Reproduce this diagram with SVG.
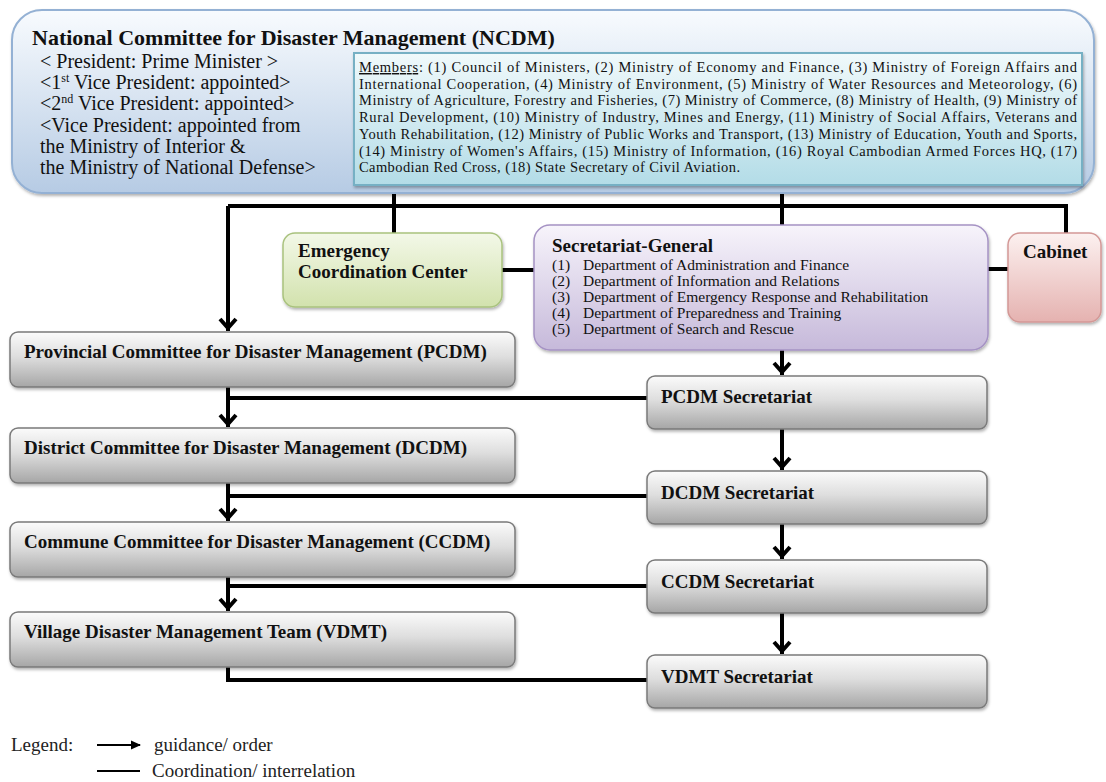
<svg xmlns="http://www.w3.org/2000/svg" width="1106" height="782" viewBox="0 0 1106 782">
<defs>
<style>
text{font-family:"Liberation Serif","Times New Roman",serif;fill:#111;}
.lbl{font-size:19px;font-weight:bold;}
.ttl{font-size:22px;font-weight:bold;}
.pres{font-size:20px;}
.mem{font-size:14.5px;}
.dep{font-size:15.5px;}
.leg{font-size:19px;fill:#222;}
.con{fill:none;stroke:#000;stroke-width:4;}
.gray{fill:url(#gGray);stroke:#7a7a7a;stroke-width:1.5;filter:url(#sh);}
</style>
<linearGradient id="gNCDM" x1="0" y1="0" x2="0" y2="1"><stop offset="0" stop-color="#f8fbfe"/><stop offset="1" stop-color="#b6cbe4"/></linearGradient>
<linearGradient id="gMem" x1="0" y1="0" x2="0" y2="1"><stop offset="0" stop-color="#f0f9fb"/><stop offset="1" stop-color="#b3dce7"/></linearGradient>
<linearGradient id="gGray" x1="0" y1="0" x2="0" y2="1"><stop offset="0" stop-color="#fbfbfb"/><stop offset="0.45" stop-color="#dedede"/><stop offset="1" stop-color="#a6a6a6"/></linearGradient>
<linearGradient id="gGreen" x1="0" y1="0" x2="0" y2="1"><stop offset="0" stop-color="#f3f8e8"/><stop offset="1" stop-color="#d2e2ad"/></linearGradient>
<linearGradient id="gPurple" x1="0" y1="0" x2="0" y2="1"><stop offset="0" stop-color="#f7f4fb"/><stop offset="1" stop-color="#c6b9da"/></linearGradient>
<linearGradient id="gPink" x1="0" y1="0" x2="0" y2="1"><stop offset="0" stop-color="#fcf1f0"/><stop offset="1" stop-color="#e5b2b0"/></linearGradient>
<filter id="sh" x="-5%" y="-10%" width="110%" height="130%"><feDropShadow dx="1" dy="2" stdDeviation="1.5" flood-color="#000" flood-opacity="0.3"/></filter>
<marker id="ah" markerUnits="userSpaceOnUse" markerWidth="30" markerHeight="30" viewBox="-15 -15 30 30" refX="0" refY="0" orient="auto" overflow="visible">
<path d="M-12,-8 L-3,0 L-12,8" fill="none" stroke="#000" stroke-width="4"/>
</marker>
<marker id="lh" markerUnits="userSpaceOnUse" markerWidth="14" markerHeight="14" viewBox="-10 -7 14 14" refX="0" refY="0" orient="auto" overflow="visible">
<path d="M-9,-4.5 L1,0 L-9,4.5 z" fill="#000"/>
</marker>
</defs>
<rect width="1106" height="782" fill="#fff"/>

<g id="connectors">
<path class="con" d="M228,206 H1066 V233"/>
<path class="con" d="M228,206 V331" marker-end="url(#ah)"/>
<path class="con" d="M394,192 V233"/>
<path class="con" d="M782,192 V225"/>
<path class="con" d="M502,270 H534"/>
<path class="con" d="M988,269 H1008"/>
<path class="con" d="M228,387 V427" marker-end="url(#ah)"/>
<path class="con" d="M228,398 H647"/>
<path class="con" d="M228,483 V521" marker-end="url(#ah)"/>
<path class="con" d="M228,496 H647"/>
<path class="con" d="M228,577 V611" marker-end="url(#ah)"/>
<path class="con" d="M228,586 H647"/>
<path class="con" d="M228,667 V680 H647"/>
<path class="con" d="M782,350 V375" marker-end="url(#ah)"/>
<path class="con" d="M782,429 V470" marker-end="url(#ah)"/>
<path class="con" d="M782,524 V559" marker-end="url(#ah)"/>
<path class="con" d="M782,613 V654" marker-end="url(#ah)"/>
</g>

<g id="ncdm">
<rect x="12" y="10" width="1082" height="183" rx="30" fill="url(#gNCDM)" stroke="#94b1d4" stroke-width="2" filter="url(#sh)"/>
<text class="ttl" x="32" y="45">National Committee for Disaster Management (NCDM)</text>
<text class="pres" x="40" y="68">&lt; President: Prime Minister &gt;</text>
<text class="pres" x="40" y="89">&lt;1<tspan font-size="12" dy="-7">st</tspan><tspan dy="7"> Vice President: appointed&gt;</tspan></text>
<text class="pres" x="40" y="110">&lt;2<tspan font-size="12" dy="-7">nd</tspan><tspan dy="7"> Vice President: appointed&gt;</tspan></text>
<text class="pres" x="40" y="132">&lt;Vice President: appointed from</text>
<text class="pres" x="40" y="153">the Ministry of Interior &amp;</text>
<text class="pres" x="40" y="174">the Ministry of National Defense&gt;</text>
</g>

<g id="members">
<rect x="354" y="53" width="728" height="132" fill="url(#gMem)" stroke="#76b0c4" stroke-width="2" filter="url(#sh)"/>
<text class="mem" x="359" y="72" textLength="718" lengthAdjust="spacing"><tspan text-decoration="underline">Members</tspan>: (1) Council of Ministers, (2) Ministry of Economy and Finance, (3) Ministry of Foreign Affairs and</text>
<text class="mem" x="359" y="88.7" textLength="718" lengthAdjust="spacing">International Cooperation, (4) Ministry of Environment, (5) Ministry of Water Resources and Meteorology, (6)</text>
<text class="mem" x="359" y="105.4" textLength="718" lengthAdjust="spacing">Ministry of Agriculture, Forestry and Fisheries, (7) Ministry of Commerce, (8) Ministry of Health, (9) Ministry of</text>
<text class="mem" x="359" y="122.1" textLength="718" lengthAdjust="spacing">Rural Development, (10) Ministry of Industry, Mines and Energy, (11) Ministry of Social Affairs, Veterans and</text>
<text class="mem" x="359" y="138.8" textLength="718" lengthAdjust="spacing">Youth Rehabilitation, (12) Ministry of Public Works and Transport, (13) Ministry of Education, Youth and Sports,</text>
<text class="mem" x="359" y="155.5" textLength="718" lengthAdjust="spacing">(14) Ministry of Women's Affairs, (15) Ministry of Information, (16) Royal Cambodian Armed Forces HQ, (17)</text>
<text class="mem" x="359" y="172.2" textLength="381" lengthAdjust="spacing">Cambodian Red Cross, (18) State Secretary of Civil Aviation.</text>
</g>

<g id="ecc">
<rect x="283" y="233" width="219" height="74" rx="12" fill="url(#gGreen)" stroke="#a9c27e" stroke-width="1.5" filter="url(#sh)"/>
<text class="lbl" x="298" y="257">Emergency</text>
<text class="lbl" x="298" y="278">Coordination Center</text>
</g>

<g id="secretariat-general">
<rect x="534" y="225" width="454" height="125" rx="16" fill="url(#gPurple)" stroke="#a592c4" stroke-width="1.5" filter="url(#sh)"/>
<text class="lbl" x="552" y="252">Secretariat-General</text>
<text class="dep" x="552" y="270">(1)</text><text class="dep" x="583" y="270">Department of Administration and Finance</text>
<text class="dep" x="552" y="286">(2)</text><text class="dep" x="583" y="286">Department of Information and Relations</text>
<text class="dep" x="552" y="302">(3)</text><text class="dep" x="583" y="302">Department of Emergency Response and Rehabilitation</text>
<text class="dep" x="552" y="318">(4)</text><text class="dep" x="583" y="318">Department of Preparedness and Training</text>
<text class="dep" x="552" y="334">(5)</text><text class="dep" x="583" y="334">Department of Search and Rescue</text>
</g>

<g id="cabinet">
<rect x="1008" y="233" width="93" height="89" rx="12" fill="url(#gPink)" stroke="#d39896" stroke-width="1.5" filter="url(#sh)"/>
<text class="lbl" x="1023" y="258">Cabinet</text>
</g>

<g id="pcdm"><rect class="gray" x="10" y="332" width="505" height="55" rx="8"/><text class="lbl" x="24" y="358">Provincial Committee for Disaster Management (PCDM)</text></g>
<g id="dcdm"><rect class="gray" x="10" y="428" width="505" height="55" rx="8"/><text class="lbl" x="24" y="454">District Committee for Disaster Management (DCDM)</text></g>
<g id="ccdm"><rect class="gray" x="10" y="522" width="505" height="55" rx="8"/><text class="lbl" x="24" y="548">Commune Committee for Disaster Management (CCDM)</text></g>
<g id="vdmt"><rect class="gray" x="10" y="612" width="505" height="55" rx="8"/><text class="lbl" x="24" y="638">Village Disaster Management Team (VDMT)</text></g>

<g id="pcdm-sec"><rect class="gray" x="647" y="376" width="340" height="53" rx="8"/><text class="lbl" x="661" y="403">PCDM Secretariat</text></g>
<g id="dcdm-sec"><rect class="gray" x="647" y="471" width="340" height="53" rx="8"/><text class="lbl" x="661" y="499">DCDM Secretariat</text></g>
<g id="ccdm-sec"><rect class="gray" x="647" y="560" width="340" height="53" rx="8"/><text class="lbl" x="661" y="588">CCDM Secretariat</text></g>
<g id="vdmt-sec"><rect class="gray" x="647" y="655" width="340" height="53" rx="8"/><text class="lbl" x="661" y="683">VDMT Secretariat</text></g>

<g id="legend">
<text class="leg" x="11" y="751">Legend:</text>
<path d="M97,745 H140" stroke="#000" stroke-width="2" fill="none" marker-end="url(#lh)"/>
<text class="leg" x="154" y="751">guidance/ order</text>
<path d="M97,771 H140" stroke="#000" stroke-width="2" fill="none"/>
<text class="leg" x="152" y="777">Coordination/ interrelation</text>
</g>
</svg>
